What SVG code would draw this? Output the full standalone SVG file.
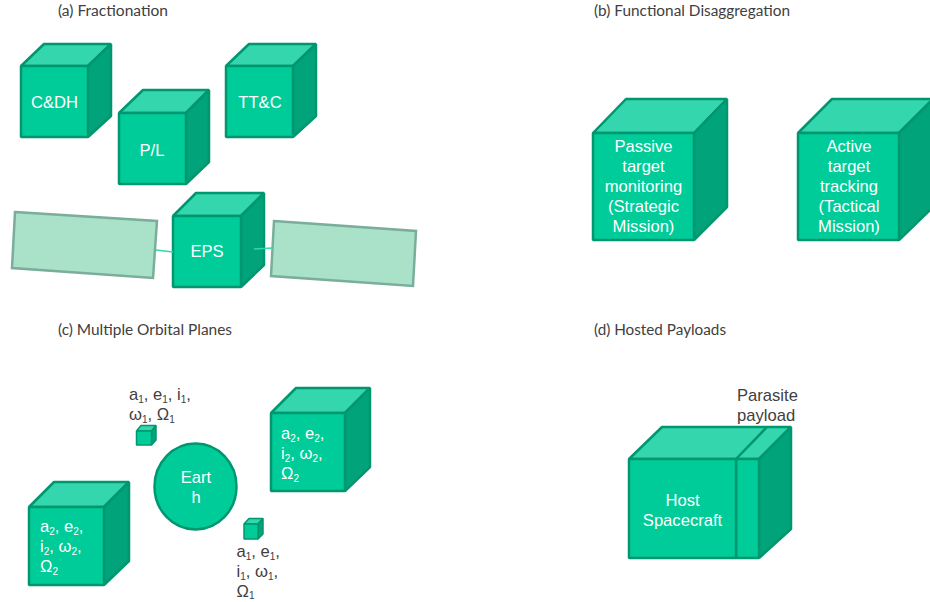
<svg xmlns="http://www.w3.org/2000/svg" width="930" height="602" viewBox="0 0 930 602">
<style>
.f{fill:#00cc99;stroke:#00966f;stroke-width:2.5;stroke-linejoin:bevel}
.t{fill:#33d6ad;stroke:#00966f;stroke-width:2.5;stroke-linejoin:bevel}
.s{fill:#00a37a;stroke:#00966f;stroke-width:2.5;stroke-linejoin:bevel}
.sm{stroke-width:1.5}
.p{fill:#a9e2c8;stroke:#7aad9b;stroke-width:2.5}
.w{font-family:"Liberation Sans",Arial,sans-serif;font-size:16.600px;fill:#fff}
.m{text-anchor:middle}
.k{font-family:"Liberation Sans",Arial,sans-serif;font-size:16.600px;fill:#404040}
.h{font-family:Lato,"Open Sans",sans-serif;font-size:14.500px;fill:#404040}
.u{font-size:10px}
.c{stroke:#33d6ad;stroke-width:1.5;fill:none}
</style>
<text class="h" x="58" y="16" textLength="110" lengthAdjust="spacingAndGlyphs">(a) Fractionation</text>
<text class="h" x="594" y="16" textLength="196" lengthAdjust="spacingAndGlyphs">(b) Functional Disaggregation</text>
<text class="h" x="58" y="335" textLength="174" lengthAdjust="spacingAndGlyphs">(c) Multiple Orbital Planes</text>
<text class="h" x="594" y="335" textLength="132" lengthAdjust="spacingAndGlyphs">(d) Hosted Payloads</text>

<g id="panel-left"><polygon class="p" points="15,212 157,221 153,278 12,268"/></g>
<g id="panel-right"><polygon class="p" points="274,221 416,231 413,286 271,276"/></g>

<g id="cube-cdh">
<polygon class="t" points="21,66 44,44 111,44 88,66"/><polygon class="s" points="88,66 111,44 111,116 88,137"/><rect class="f" x="21" y="66" width="67" height="71"/>
<text class="w m" x="54.500" y="107.500">C&amp;DH</text></g>
<g id="cube-pl">
<polygon class="t" points="119,113 143,90 209,90 186,113"/><polygon class="s" points="186,113 209,90 209,162 186,184"/><rect class="f" x="119" y="113" width="67" height="71"/>
<text class="w m" x="152" y="155.500">P/L</text></g>
<g id="cube-ttc">
<polygon class="t" points="226,66 249,44 316,44 293,66"/><polygon class="s" points="293,66 316,44 316,116 293,137"/><rect class="f" x="226" y="66" width="67" height="71"/>
<text class="w m" x="260" y="107.500">TT&amp;C</text></g>
<g id="cube-eps">
<polygon class="t" points="173,216 196,193 264,193 241,216"/><polygon class="s" points="241,216 264,193 264,265 241,287"/><rect class="f" x="173" y="216" width="68" height="71"/>
<text class="w m" x="207" y="257">EPS</text></g>

<g id="connectors">
<line class="c" x1="156" y1="250" x2="173" y2="252"/>
<line class="c" x1="254" y1="249" x2="273" y2="248"/>
</g>

<g id="cube-passive">
<polygon class="t" points="593,133 626,99 727,99 694,133"/><polygon class="s" points="694,133 727,99 727,207 694,240"/><rect class="f" x="593" y="133" width="101" height="107"/>
<text class="w m"><tspan x="643.500" y="152">Passive</tspan><tspan x="643.500" y="172">target</tspan><tspan x="643.500" y="192">monitoring</tspan><tspan x="643.500" y="212">(Strategic</tspan><tspan x="643.500" y="232">Mission)</tspan></text></g>
<g id="cube-active">
<polygon class="t" points="798,133 832,99 933,99 899,133"/><polygon class="s" points="899,133 933,99 933,207 899,240"/><rect class="f" x="798" y="133" width="101" height="107"/>
<text class="w m"><tspan x="849" y="152">Active</tspan><tspan x="849" y="172">target</tspan><tspan x="849" y="192">tracking</tspan><tspan x="849" y="212">(Tactical</tspan><tspan x="849" y="232">Mission)</tspan></text></g>

<g id="cube-orbit2-a">
<polygon class="t" points="271,413 296,388 370,388 345,413"/><polygon class="s" points="345,413 370,388 370,467 345,491"/><rect class="f" x="271" y="413" width="74" height="78"/>
<text class="w"><tspan x="281" y="439">a<tspan class="u" dy="3">2</tspan><tspan dy="-3">, e</tspan><tspan class="u" dy="3">2</tspan><tspan dy="-3">,</tspan></tspan><tspan x="281" y="459">i<tspan class="u" dy="3">2</tspan><tspan dy="-3">, ω</tspan><tspan class="u" dy="3">2</tspan><tspan dy="-3">,</tspan></tspan><tspan x="281" y="479">Ω<tspan class="u" dy="3">2</tspan></tspan></text></g>
<g id="cube-orbit2-b">
<polygon class="t" points="29,507 54,482 129,482 104,507"/><polygon class="s" points="104,507 129,482 129,561 104,585"/><rect class="f" x="29" y="507" width="75" height="78"/>
<text class="w"><tspan x="40" y="532">a<tspan class="u" dy="3">2</tspan><tspan dy="-3">, e</tspan><tspan class="u" dy="3">2</tspan><tspan dy="-3">,</tspan></tspan><tspan x="40" y="552">i<tspan class="u" dy="3">2</tspan><tspan dy="-3">, ω</tspan><tspan class="u" dy="3">2</tspan><tspan dy="-3">,</tspan></tspan><tspan x="40" y="572">Ω<tspan class="u" dy="3">2</tspan></tspan></text></g>

<g id="cube-small-a">
<polygon class="t sm" points="136.500,431 141,425.500 156,425.500 151.500,431"/><polygon class="s sm" points="151.500,431 156,425.500 156,440 151.500,445"/><rect class="f sm" x="136.500" y="431" width="15" height="14"/></g>
<g id="cube-small-b">
<polygon class="t sm" points="244,524 249,518.500 263,518.500 258,524"/><polygon class="s sm" points="258,524 263,518.500 263,534 258,539"/><rect class="f sm" x="244" y="524" width="14" height="15"/></g>

<g id="earth">
<ellipse class="f" cx="195.500" cy="486.500" rx="41" ry="43"/>
<text class="w m"><tspan x="196" y="483">Eart</tspan><tspan x="196" y="503">h</tspan></text></g>

<g id="label-orbit1-a"><text class="k"><tspan x="129" y="400">a<tspan class="u" dy="3">1</tspan><tspan dy="-3">, e</tspan><tspan class="u" dy="3">1</tspan><tspan dy="-3">, i</tspan><tspan class="u" dy="3">1</tspan><tspan dy="-3">,</tspan></tspan><tspan x="129" y="420">ω<tspan class="u" dy="3">1</tspan><tspan dy="-3">, Ω</tspan><tspan class="u" dy="3">1</tspan></tspan></text></g>
<g id="label-orbit1-b"><text class="k"><tspan x="236.500" y="557">a<tspan class="u" dy="3">1</tspan><tspan dy="-3">, e</tspan><tspan class="u" dy="3">1</tspan><tspan dy="-3">,</tspan></tspan><tspan x="236.500" y="577">i<tspan class="u" dy="3">1</tspan><tspan dy="-3">, ω</tspan><tspan class="u" dy="3">1</tspan><tspan dy="-3">,</tspan></tspan><tspan x="236.500" y="596.500">Ω<tspan class="u" dy="2.500">1</tspan></tspan></text></g>

<g id="cube-host">
<polygon class="t" points="629,459 662,427 791,427 759,459"/><polygon class="s" points="759,459 791,427 791,529 759,558"/>
<line x1="736" y1="459" x2="767" y2="427" stroke="#00966f" stroke-width="2.500"/>
<rect class="f" x="736" y="459" width="23" height="99"/>
<rect class="f" x="629" y="459" width="107" height="99"/>
<text class="w m"><tspan x="682.500" y="506">Host</tspan><tspan x="682.500" y="525.500">Spacecraft</tspan></text></g>
<g id="label-parasite"><text class="k"><tspan x="737" y="401">Parasite</tspan><tspan x="737" y="421">payload</tspan></text></g>
</svg>
